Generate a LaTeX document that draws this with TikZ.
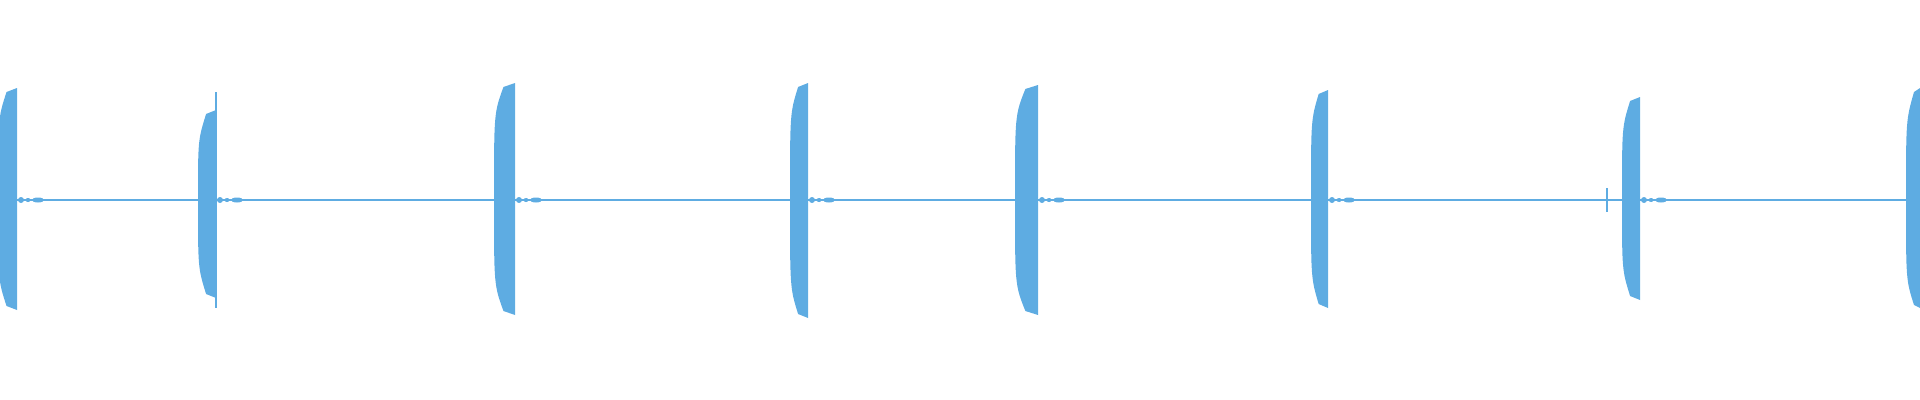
\documentclass[tikz,border=0pt]{standalone}
\definecolor{wave}{RGB}{94,172,226}
\newcommand{\wburst}[4]{%
  \fill[wave] (#2,#3) -- ({#1+0.45*(#2-#1)},{#3+4}) .. controls (#1,{#3+30}) .. (#1,200)
   .. controls (#1,{#4-30}) .. ({#1+0.45*(#2-#1)},{#4-4}) -- (#2,#4) -- cycle;
  \fill[wave] ({#2+4},200) ellipse (3 and 3);
  \fill[wave] ({#2+11},200) ellipse (2.5 and 2);
  \fill[wave] ({#2+21},200) ellipse (6 and 2.5);}
\begin{document}
\begin{tikzpicture}[x=0.01cm,y=-0.01cm]
\useasboundingbox (0,0) rectangle (1920,400);
\draw[wave,line width=0.35pt] (0,200) -- (1920,200);
\wburst{-2}{17}{88}{310}
\wburst{198}{216}{110}{298}
\draw[wave,line width=0.8pt] (216,92) -- (216,308);
\wburst{494}{515}{83}{315}
\wburst{790}{808}{83}{318}
\wburst{1015}{1038}{85}{315}
\wburst{1311}{1328}{90}{308}
\wburst{1622}{1640}{97}{300}
\draw[wave,line width=0.7pt] (1607,188) -- (1607,212);
\fill[wave] (1920,88) -- (1914,92) .. controls (1906,120) .. (1906,200) .. controls (1906,280) .. (1914,305) -- (1920,308) -- cycle;
\end{tikzpicture}
\end{document}
